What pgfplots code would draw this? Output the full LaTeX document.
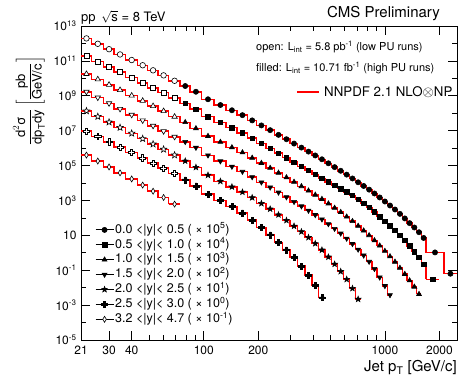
\documentclass[border=0pt]{standalone}
\usepackage{fontspec}
\setmainfont{TeX Gyre Heros}
\usepackage{amsmath}
\usepackage{pgfplots}
\pgfplotsset{compat=1.18}
\usepackage{pgfplotstable}
\usetikzlibrary{plotmarks}

\pgfdeclareplotmark{fstar}{%
  \pgfpathmoveto{\pgfpointpolar{90}{\pgfplotmarksize}}%
  \pgfpathlineto{\pgfpointpolar{126}{0.42\pgfplotmarksize}}%
  \pgfpathlineto{\pgfpointpolar{162}{\pgfplotmarksize}}%
  \pgfpathlineto{\pgfpointpolar{198}{0.42\pgfplotmarksize}}%
  \pgfpathlineto{\pgfpointpolar{234}{\pgfplotmarksize}}%
  \pgfpathlineto{\pgfpointpolar{270}{0.42\pgfplotmarksize}}%
  \pgfpathlineto{\pgfpointpolar{306}{\pgfplotmarksize}}%
  \pgfpathlineto{\pgfpointpolar{342}{0.42\pgfplotmarksize}}%
  \pgfpathlineto{\pgfpointpolar{18}{\pgfplotmarksize}}%
  \pgfpathlineto{\pgfpointpolar{54}{0.42\pgfplotmarksize}}%
  \pgfpathclose\pgfusepathqfillstroke}
\pgfdeclareplotmark{fcross}{%
  \pgfpathmoveto{\pgfpoint{0.3\pgfplotmarksize}{\pgfplotmarksize}}%
  \pgfpathlineto{\pgfpoint{0.3\pgfplotmarksize}{0.3\pgfplotmarksize}}%
  \pgfpathlineto{\pgfpoint{\pgfplotmarksize}{0.3\pgfplotmarksize}}%
  \pgfpathlineto{\pgfpoint{\pgfplotmarksize}{-0.3\pgfplotmarksize}}%
  \pgfpathlineto{\pgfpoint{0.3\pgfplotmarksize}{-0.3\pgfplotmarksize}}%
  \pgfpathlineto{\pgfpoint{0.3\pgfplotmarksize}{-\pgfplotmarksize}}%
  \pgfpathlineto{\pgfpoint{-0.3\pgfplotmarksize}{-\pgfplotmarksize}}%
  \pgfpathlineto{\pgfpoint{-0.3\pgfplotmarksize}{-0.3\pgfplotmarksize}}%
  \pgfpathlineto{\pgfpoint{-\pgfplotmarksize}{-0.3\pgfplotmarksize}}%
  \pgfpathlineto{\pgfpoint{-\pgfplotmarksize}{0.3\pgfplotmarksize}}%
  \pgfpathlineto{\pgfpoint{-0.3\pgfplotmarksize}{0.3\pgfplotmarksize}}%
  \pgfpathlineto{\pgfpoint{-0.3\pgfplotmarksize}{\pgfplotmarksize}}%
  \pgfpathclose\pgfusepathqfillstroke}

% columns: bin low edge, bin centre, bin high edge, cross section (scaled)
\pgfplotstableread{
xl x xh y
21 22.5 24 1.95e12
24 26 28 9.55e11
28 30 32 4.68e11
32 34.5 37 2.34e11
37 40 43 1.12e11
43 46 49 5.62e10
49 52.5 56 2.88e10
56 60 64 1.48e10
64 69 74 7.24e9
74 79 84 3.63e9
84 90.5 97 1.70e9
97 105.5 114 6.31e8
114 123.5 133 2.95e8
133 143 153 1.48e8
153 163.5 174 7.76e7
174 185 196 3.89e7
196 208 220 2.00e7
220 232.5 245 1.07e7
245 258.5 272 5.75e6
272 286 300 3.24e6
300 315 330 1.82e6
330 346 362 1.07e6
362 378.5 395 6.31e5
395 412.5 430 3.80e5
430 449 468 2.29e5
468 487.5 507 1.35e5
507 527.5 548 8.13e4
548 570 592 5.01e4
592 615 638 3.02e4
638 662 686 1.82e4
686 711.5 737 1.10e4
737 763.5 790 6.76e3
790 818 846 4.17e3
846 875.5 905 2.51e3
905 936 967 1.48e3
967 999.5 1032 871
1032 1066.5 1101 513
1101 1136.5 1172 302
1172 1210 1248 170
1248 1287.5 1327 93.3
1327 1368.5 1410 50.1
1410 1453.5 1497 28.2
1497 1542.5 1588 15.1
1588 1636 1684 7.08
1684 1890 2116 1.05
2116 2300 2500 0.063
}\tA
\pgfplotstableread{
xl x xh y
21 22.5 24 1.91e11
24 26 28 9.33e10
28 30 32 4.57e10
32 34.5 37 2.29e10
37 40 43 1.10e10
43 46 49 5.50e9
49 52.5 56 2.82e9
56 60 64 1.51e9
64 69 74 7.59e8
74 79 84 3.63e8
84 90.5 97 1.70e8
97 105.5 114 6.31e7
114 123.5 133 2.95e7
133 143 153 1.48e7
153 163.5 174 7.59e6
174 185 196 3.72e6
196 208 220 1.86e6
220 232.5 245 9.77e5
245 258.5 272 5.13e5
272 286 300 2.82e5
300 315 330 1.55e5
330 346 362 9.12e4
362 378.5 395 5.25e4
395 412.5 430 3.16e4
430 449 468 1.86e4
468 487.5 507 1.15e4
507 527.5 548 7.41e3
548 570 592 4.79e3
592 615 638 3.09e3
638 662 686 1.95e3
686 711.5 737 1.17e3
737 763.5 790 692
790 818 846 398
846 875.5 905 224
905 936 967 120
967 999.5 1032 63.1
1032 1066.5 1101 33.9
1101 1136.5 1172 19.1
1172 1210 1248 10.2
1248 1287.5 1327 5.25
1327 1368.5 1410 2.45
1410 1453.5 1497 1.15
1497 1542.5 1588 0.537
1588 1636 1684 0.224
1684 1835 2000 0.0302
}\tB
\pgfplotstableread{
xl x xh y
21 22.5 24 1.78e10
24 26 28 8.71e9
28 30 32 4.27e9
32 34.5 37 2.14e9
37 40 43 1.02e9
43 46 49 5.13e8
49 52.5 56 2.57e8
56 60 64 1.32e8
64 69 74 6.31e7
74 79 84 3.02e7
84 90.5 97 1.35e7
97 105.5 114 4.90e6
114 123.5 133 2.24e6
133 143 153 1.10e6
153 163.5 174 5.62e5
174 185 196 2.75e5
196 208 220 1.38e5
220 232.5 245 7.24e4
245 258.5 272 3.80e4
272 286 300 2.09e4
300 315 330 1.15e4
330 346 362 6.46e3
362 378.5 395 3.63e3
395 412.5 430 2.09e3
430 449 468 1.20e3
468 487.5 507 661
507 527.5 548 372
548 570 592 214
592 615 638 117
638 662 686 64.6
686 711.5 737 34.7
737 763.5 790 18.6
790 818 846 10.0
846 875.5 905 5.13
905 936 967 2.57
967 999.5 1032 1.26
1032 1066.5 1101 0.617
1101 1136.5 1172 0.302
1172 1210 1248 0.135
1248 1287.5 1327 0.0603
1327 1368.5 1410 0.0257
1410 1453.5 1497 0.0112
1497 1542.5 1588 0.00427
}\tC
\pgfplotstableread{
xl x xh y
21 22.5 24 1.70e9
24 26 28 7.94e8
28 30 32 3.72e8
32 34.5 37 1.78e8
37 40 43 8.13e7
43 46 49 3.89e7
49 52.5 56 1.91e7
56 60 64 9.33e6
64 69 74 4.47e6
74 79 84 2.29e6
84 90.5 97 1.07e6
97 105.5 114 3.89e5
114 123.5 133 1.78e5
133 143 153 8.71e4
153 163.5 174 4.47e4
174 185 196 2.19e4
196 208 220 1.10e4
220 232.5 245 5.62e3
245 258.5 272 2.88e3
272 286 300 1.55e3
300 315 330 832
330 346 362 468
362 378.5 395 263
395 412.5 430 148
430 449 468 83.2
468 487.5 507 44.7
507 527.5 548 24.0
548 570 592 12.9
592 615 638 6.61
638 662 686 3.24
686 711.5 737 1.55
737 763.5 790 0.708
790 818 846 0.309
846 875.5 905 0.120
905 936 967 0.0389
967 999.5 1032 0.0126
1032 1066.5 1101 0.0038
}\tD
\pgfplotstableread{
xl x xh y
21 22.5 24 1.35e8
24 26 28 6.46e7
28 30 32 3.09e7
32 34.5 37 1.51e7
37 40 43 7.08e6
43 46 49 3.47e6
49 52.5 56 1.70e6
56 60 64 8.51e5
64 69 74 3.98e5
74 79 84 1.82e5
84 90.5 97 7.94e4
97 105.5 114 2.82e4
114 123.5 133 1.26e4
133 143 153 6.03e3
153 163.5 174 3.02e3
174 185 196 1.45e3
196 208 220 676
220 232.5 245 324
245 258.5 272 151
272 286 300 72.4
300 315 330 33.9
330 346 362 16.2
362 378.5 395 7.59
395 412.5 430 3.39
430 449 468 1.45
468 487.5 507 0.575
507 527.5 548 0.224
548 570 592 0.0851
592 615 638 0.0302
638 662 686 0.00912
686 711.5 737 0.00219
}\tE
\pgfplotstableread{
xl x xh y
21 22.5 24 9.55e6
24 26 28 4.68e6
28 30 32 2.29e6
32 34.5 37 1.15e6
37 40 43 5.50e5
43 46 49 2.75e5
49 52.5 56 1.41e5
56 60 64 7.24e4
64 69 74 3.55e4
74 79 84 1.51e4
84 90.5 97 6.76e3
97 105.5 114 2.34e3
114 123.5 133 1.00e3
133 143 153 447
153 163.5 174 191
174 185 196 74.1
196 208 220 28.2
220 232.5 245 10.7
245 258.5 272 3.98
272 286 300 1.48
300 315 330 0.525
330 346 362 0.174
362 378.5 395 0.0525
395 412.5 430 0.0141
430 449 468 0.00263
}\tF
\pgfplotstableread{
xl x xh y
21 22.5 24 3.98e5
24 26 28 1.82e5
28 30 32 8.32e4
32 34.5 37 3.80e4
37 40 43 1.70e4
43 46 49 7.59e3
49 52.5 56 3.39e3
56 60 64 1.48e3
64 69 74 617
}\tG

\pgfplotsset{
  th/.style={red, line width=1.5pt, const plot mark left, no marks, forget plot},
  thend/.style={red, line width=1.5pt, no marks, forget plot},
  bars/.style={black, line width=0.8pt, jump mark left, no marks, forget plot},
  dat/.style={only marks, black, line width=0.6pt,
    legend image code/.code={%
      \draw[black,line width=0.9pt,solid] (0pt,0pt) -- (18pt,0pt);
      \draw[mark repeat=2,mark phase=2,##1] plot coordinates {(0pt,0pt)(9pt,0pt)(18pt,0pt)};}},
  lowpu/.style={skip coords between index={9}{1000}},
  highpu/.style={skip coords between index={0}{9}},
}

\begin{document}
\begin{tikzpicture}
\useasboundingbox (0,0) rectangle (460pt,378pt);
\begin{axis}[
  at={(81pt,38pt)}, anchor=south west,
  scale only axis, width=376pt, height=314pt,
  xmode=log, ymode=log,
  xmin=21, xmax=2500, ymin=1e-5, ymax=1e13,
  axis line style={line width=0.6pt},
  tick align=inside, tick pos=both,
  major tick length=9pt, minor tick length=5pt,
  tick style={black, line width=0.6pt},
  xtick={21,30,40,100,200,1000,2000},
  xticklabels={21,30,40,100,200,1000,2000},
  minor xtick={50,60,70,80,90,300,400,500,600,700,800,900},
  ytick={1e-5,1e-3,1e-1,1e1,1e3,1e5,1e7,1e9,1e11,1e13},
  yticklabels={10\textsuperscript{-5},10\textsuperscript{-3},10\textsuperscript{-1},10,10\textsuperscript{3},10\textsuperscript{5},10\textsuperscript{7},10\textsuperscript{9},10\textsuperscript{11},10\textsuperscript{13}},
  minor ytick={1e-4,1e-2,1,1e2,1e4,1e6,1e8,1e10,1e12},
  xticklabel style={font=\fontsize{12}{12}\selectfont, yshift=-2pt},
  yticklabel style={font=\fontsize{12}{12}\selectfont, xshift=-1pt},
  legend style={at={(0.037,0.375)}, anchor=north west, draw=none, fill=none,
    inner sep=0pt, row sep=0pt, font=\fontsize{12.5}{13}\selectfont,
    nodes={inner sep=1.2pt, text height=9.5pt, text depth=3pt}},
  legend cell align=left,
]
% data bin widths (horizontal bars)
\addplot[bars] table[x=xl,y=y]{\tA};
\addplot[bars] coordinates {(2116,0.063)(2500,0.063)};
\addplot[bars] table[x=xl,y=y]{\tB};
\addplot[bars] coordinates {(1684,0.0302)(2000,0.0302)};
\addplot[bars] table[x=xl,y=y]{\tC};
\addplot[bars] coordinates {(1497,0.00427)(1588,0.00427)};
\addplot[bars] table[x=xl,y=y]{\tD};
\addplot[bars] coordinates {(1032,0.0038)(1101,0.0038)};
\addplot[bars] table[x=xl,y=y]{\tE};
\addplot[bars] coordinates {(686,0.00219)(737,0.00219)};
\addplot[bars] table[x=xl,y=y]{\tF};
\addplot[bars] coordinates {(430,0.00263)(468,0.00263)};
\addplot[bars] table[x=xl,y=y]{\tG};
\addplot[bars] coordinates {(64,617)(74,617)};
% theory (red steps)
\addplot[th] table[x=xl,y=y]{\tA};
\addplot[thend] coordinates {(2116,0.063)(2500,0.063)};
\addplot[th] table[x=xl,y=y]{\tB};
\addplot[thend] coordinates {(1684,0.0302)(2000,0.0302)};
\addplot[th] table[x=xl,y=y]{\tC};
\addplot[thend] coordinates {(1497,0.00427)(1588,0.00427)};
\addplot[th] table[x=xl,y=y]{\tD};
\addplot[thend] coordinates {(1032,0.0038)(1101,0.0038)};
\addplot[th] table[x=xl,y=y]{\tE};
\addplot[thend] coordinates {(686,0.00219)(737,0.00219)};
\addplot[th] table[x=xl,y=y]{\tF};
\addplot[thend] coordinates {(430,0.00263)(468,0.00263)};
\addplot[th] table[x=xl,y=y]{\tG};
\addplot[thend] coordinates {(64,617)(74,617)};
% data markers, open (low PU)
\addplot[dat, lowpu, forget plot, mark=*, mark size=2.8pt, mark options={fill=white}] table[x=x,y=y]{\tA};
\addplot[dat, lowpu, forget plot, mark=square*, mark size=2.5pt, mark options={fill=white}] table[x=x,y=y]{\tB};
\addplot[dat, lowpu, forget plot, mark=triangle*, mark size=3.1pt, mark options={fill=white}] table[x=x,y=y]{\tC};
\addplot[dat, lowpu, forget plot, mark=triangle*, mark size=3.1pt, mark options={fill=white, rotate=180}] table[x=x,y=y]{\tD};
\addplot[dat, lowpu, forget plot, mark=fstar, mark size=3.4pt, mark options={fill=white}] table[x=x,y=y]{\tE};
\addplot[dat, lowpu, forget plot, mark=fcross, mark size=3.1pt, mark options={fill=white}] table[x=x,y=y]{\tF};
% data markers, filled (high PU)
\addplot[dat, highpu, mark=*, mark size=2.6pt] table[x=x,y=y]{\tA};
\addlegendentry{0.0 <|y|< 0.5 ( × 10\textsuperscript{5})}
\addplot[dat, highpu, mark=square*, mark size=2.3pt] table[x=x,y=y]{\tB};
\addlegendentry{0.5 <|y|< 1.0 ( × 10\textsuperscript{4})}
\addplot[dat, highpu, mark=triangle*, mark size=2.8pt] table[x=x,y=y]{\tC};
\addlegendentry{1.0 <|y|< 1.5 ( × 10\textsuperscript{3})}
\addplot[dat, highpu, mark=triangle*, mark size=2.8pt, mark options={rotate=180}] table[x=x,y=y]{\tD};
\addlegendentry{1.5 <|y|< 2.0 ( × 10\textsuperscript{2})}
\addplot[dat, highpu, mark=fstar, mark size=3pt] table[x=x,y=y]{\tE};
\addlegendentry{2.0 <|y|< 2.5 ( × 10\textsuperscript{1})}
\addplot[dat, highpu, mark=fcross, mark size=3pt] table[x=x,y=y]{\tF};
\addlegendentry{2.5 <|y|< 3.0 ( × 10\textsuperscript{0})}
\addplot[dat, mark=diamond*, mark size=3pt, mark options={fill=white, xscale=0.8}] table[x=x,y=y]{\tG};
\addlegendentry{3.2 <|y|< 4.7 ( × 10\textsuperscript{-1})}
\end{axis}
% texts
\node[anchor=west, font=\fontsize{13}{13}\selectfont, inner sep=0pt] at (81pt,360.5pt) {pp\, $\sqrt{\text{s}}$ = 8 TeV};
\node[anchor=east, font=\fontsize{15}{15}\selectfont, inner sep=0pt] at (440pt,364pt) {CMS Preliminary};
\node[anchor=west, font=\fontsize{11}{11}\selectfont, inner sep=0pt] at (256pt,331pt) {open: L\textsubscript{int} = 5.8 pb\textsuperscript{-1} (low PU runs)};
\node[anchor=west, font=\fontsize{11}{11}\selectfont, inner sep=0pt] at (256pt,310pt) {filled: L\textsubscript{int} = 10.71 fb\textsuperscript{-1} (high PU runs)};
\node[anchor=west, font=\fontsize{13.3}{13.3}\selectfont, inner sep=0pt] at (297pt,286pt) {\textcolor{red}{\rule[0.28em]{22pt}{1.3pt}}\hspace{5pt}NNPDF 2.1 NLO$\otimes$NP};
\node[rotate=90, font=\fontsize{13}{13}\selectfont, inner sep=0pt] at (29pt,277pt) {$\dfrac{\text{d}^{2}\text{σ}}{\text{dp}_{\text{T}}\text{dy}}\left[\dfrac{\text{pb}}{\text{GeV/c}}\right]$};
\node[anchor=east, font=\fontsize{15}{15}\selectfont, inner sep=0pt] at (457pt,10pt) {Jet p\textsubscript{T} [GeV/c]};
\end{tikzpicture}
\end{document}
